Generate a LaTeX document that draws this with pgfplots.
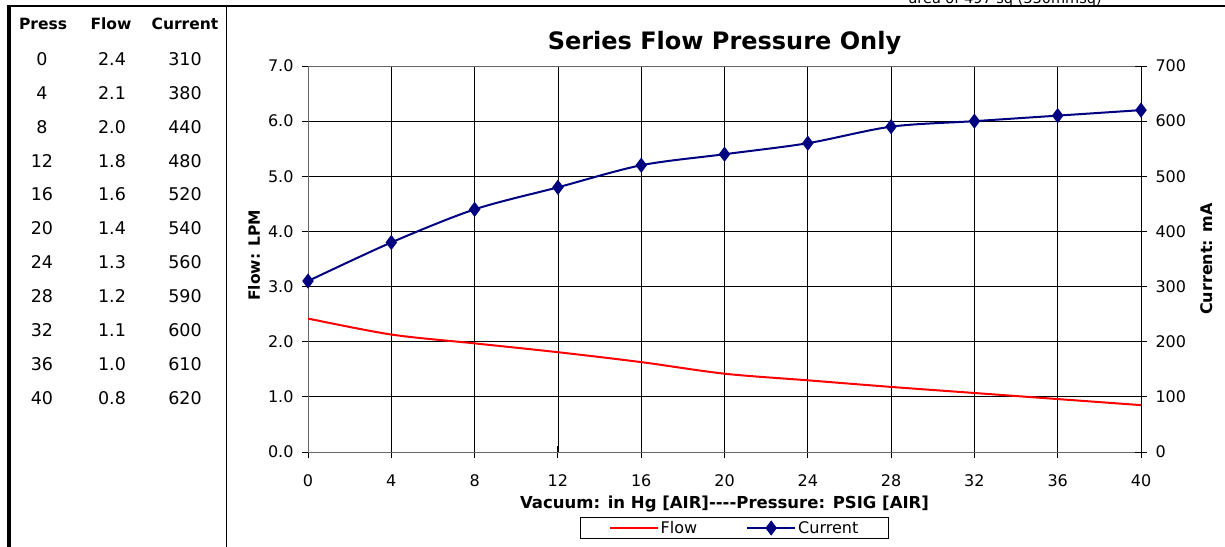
\documentclass[border=0pt]{standalone}
\usepackage{fontspec}
\setmainfont{DejaVu Sans}
\usepackage{pgfplots}
\pgfplotsset{compat=1.18}
\definecolor{navyblue}{HTML}{000080}
\newcommand{\fs}[1]{\fontsize{#1}{#1}\selectfont}
\begin{document}
\begin{tikzpicture}
\path[use as bounding box] (0,0) rectangle (1225pt,546pt);
\draw[line width=2.5pt] (7.5pt,540pt) -- (1225pt,540pt);
\draw[line width=3.5pt] (9pt,541pt) -- (9pt,-2pt);
\draw[line width=1.8pt] (226.5pt,540pt) -- (226.5pt,-2pt);
\node[anchor=base west, font=\fs{14.5}] at (905pt,542.5pt) {area of 497 sq (330mmsq)};
% table
\node[font=\bfseries\fs{15.5}] at (43pt,522pt) {Press};
\node[font=\bfseries\fs{15.5}] at (111pt,522pt) {Flow};
\node[font=\bfseries\fs{15.5}] at (185pt,522pt) {Current};
\foreach \p/\f/\c [count=\i from 0] in {0/2.4/310,4/2.1/380,8/2.0/440,12/1.8/480,16/1.6/520,20/1.4/540,24/1.3/560,28/1.2/590,32/1.1/600,36/1.0/610,40/0.8/620}{
  \node[font=\fs{17.5}] at (42pt,{(487-33.9*\i)*1pt}) {\p};
  \node[font=\fs{17.5}] at (112pt,{(487-33.9*\i)*1pt}) {\f};
  \node[font=\fs{17.5}] at (185pt,{(487-33.9*\i)*1pt}) {\c};
}
\begin{axis}[
  at={(308pt,94pt)}, anchor=south west,
  scale only axis, width=833pt, height=386pt,
  xmin=0, xmax=40, ymin=0, ymax=7,
  xtick={0,4,...,40}, ytick={0,1,...,7},
  tick pos=left, tick align=center, major tick length=12pt,
  tick style={black, line width=0.9pt},
  grid=major, major grid style={black, line width=0.8pt},
  axis line style={black!60, line width=1pt},
  /pgf/number format/assume math mode=true,
  ticklabel style={font=\fs{16}},
  xticklabel style={yshift=-13pt},
  yticklabel style={xshift=-5pt, /pgf/number format/.cd, fixed, fixed zerofill, precision=1},
  title={Series Flow Pressure Only},
  title style={font=\bfseries\fs{24}, at={(axis description cs:0.5,1.044)}, anchor=center, yshift=0pt},
  xlabel={Vacuum: in Hg [AIR]\mbox{-}\mbox{-}\mbox{-}\mbox{-}Pressure: PSIG [AIR]},
  xlabel style={font=\bfseries\fs{16.5}, at={(axis description cs:0.5,-0.1345)}, anchor=center},
  ylabel={Flow: LPM},
  ylabel style={font=\bfseries\fs{15.5}, at={(axis description cs:-0.0648,0.51)}, anchor=center},
  legend columns=2,
  legend style={at={(axis description cs:0.512,-0.197)}, anchor=center, draw=black, line width=0.8pt,
    font=\fs{16}, inner ysep=1.5pt, inner xsep=28.5pt, /tikz/every even column/.append style={column sep=47pt}},
  legend image code/.code={\draw[mark repeat=2,mark phase=2] plot coordinates {(0pt,0pt) (24pt,0pt) (48pt,0pt)};},
]
\addplot[red, line width=2pt, smooth] coordinates {(0,2.42)(4,2.13)(8,1.97)(12,1.81)(16,1.63)(20,1.42)(24,1.30)(28,1.18)(32,1.07)(36,0.96)(40,0.85)};
\addlegendentry{Flow}
\addlegendimage{navyblue, line width=2pt, mark=diamond*, mark size=6pt}
\addlegendentry{Current}
\end{axis}
\begin{axis}[
  at={(308pt,94pt)}, anchor=south west,
  scale only axis, width=833pt, height=386pt,
  xmin=0, xmax=40, ymin=0, ymax=700,
  axis y line*=right, axis x line=none,
  ytick={0,100,...,700},
  tick align=center, major tick length=12pt,
  tick style={black, line width=0.9pt},
  axis line style={black, line width=1pt},
  /pgf/number format/assume math mode=true,
  ticklabel style={font=\fs{16}},
  yticklabel style={xshift=5pt},
  ylabel={Current: mA},
  ylabel style={font=\bfseries\fs{16}, at={(axis description cs:1.0792,0.5)}, anchor=center},
]
\addplot[navyblue, line width=2pt, mark=diamond*, mark size=6pt, smooth] coordinates {(0,310)(4,380)(8,440)(12,480)(16,520)(20,540)(24,560)(28,590)(32,600)(36,610)(40,620)};
\end{axis}
\end{tikzpicture}
\end{document}
